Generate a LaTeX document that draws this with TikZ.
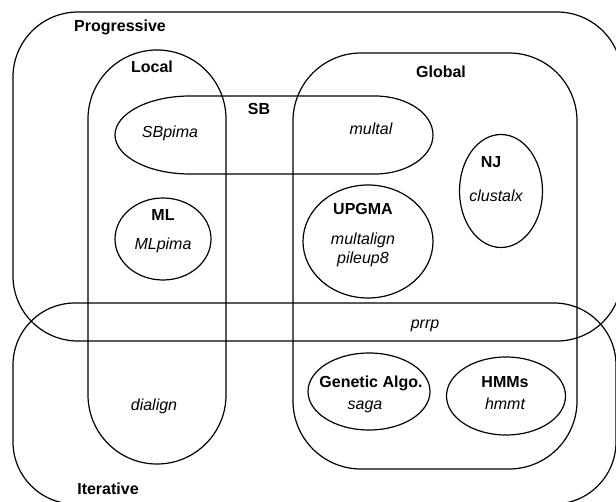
\documentclass[tikz,border=0pt]{standalone}
\usepackage{fontspec}
\setmainfont{Liberation Sans}
\usetikzlibrary{shapes.geometric,positioning}
\tikzset{
 grp/.style
  = {rectangle, draw, inner sep=0pt},
 alg/.style
  = {ellipse, draw, inner sep=0pt},
 lbl/.style
  = {font=\fontsize{8}{9.6}\selectfont\bfseries, inner sep=0pt,
     text height=6pt, text depth=1.6pt},
 prog/.style
  = {font=\fontsize{8}{9.6}\selectfont\itshape, inner sep=0pt,
     text height=6pt, text depth=1.6pt},
}

\begin{document}
\begin{tikzpicture}[x=0.5pt, y=-0.5pt, line width=0.6pt]
\useasboundingbox (0,0) rectangle (616,502);
\clip (0,0) rectangle (616,502);

% Progressive / Iterative
\node[grp, minimum width=304.5pt, minimum height=164.5pt, rounded corners=32.5pt] (progressive) at (317.5,176.5) {};
\node[grp, minimum width=301.5pt, minimum height=100.5pt, rounded corners=31pt] (iterative) at (314.5,403.5) {};
\node[lbl] (progressiveL) at (120,27) {Progressive};
\node[lbl] (iterativeL) at (108,490) {Iterative};

% Local / Global
\node[grp, minimum width=69pt, minimum height=207pt, rounded corners=34.5pt] (local) at (157,257) {};
\node[grp, minimum width=142pt, minimum height=208pt, rounded corners=34pt] (global) at (435,261) {};
\node[lbl] (localL) at (152,68) {Local};
\node[lbl] (globalL) at (441,73) {Global};

% SB
\draw (190,96) -- (375,96) .. controls (407,96) and (433,113.5) .. (433,135)
  .. controls (433,156.5) and (407,174) .. (375,174) -- (190,174)
  .. controls (148.6,174) and (115,156.5) .. (115,135)
  .. controls (115,113.5) and (148.6,96) .. (190,96) -- cycle;
\node[lbl] (sbL) at (259,110) {SB};
\node[prog] (sbpima) at (170,133) {SBpima};
\node[prog] (multal) at (371,130) {multal};

% ML, UPGMA, NJ
\node[alg, minimum width=48pt, minimum height=41pt] (ml) at (163,239) {};
\node[lbl] (mlL) at (163,216) {ML};
\node[prog] (mlpima) at (163,245) {MLpima};

\node[alg, minimum width=65pt, minimum height=56.5pt] (upgma) at (368,241.5) {};
\node[lbl] (upgmaL) at (363,210) {UPGMA};
\node[prog] (multalign) at (363,240) {multalign};
\node[prog] (pileup) at (363,259) {pileup8};

\node[alg, minimum width=41.5pt, minimum height=56.5pt] (nj) at (501,191) {};
\node[lbl] (njL) at (491,163) {NJ};
\node[prog] (clustalx) at (496,197) {clustalx};

% intersection
\node[prog] (prrp) at (425,324) {prrp};
\node[prog] (dialign) at (154,406) {dialign};

% Genetic Algo., HMMs
\node[alg, minimum width=61pt, minimum height=38.5pt] (ga) at (369,391.5) {};
\node[lbl] (gaL) at (371,383) {Genetic Algo.};
\node[prog] (saga) at (365,405) {saga};

\node[alg, minimum width=59.5pt, minimum height=39pt] (hmm) at (506,396) {};
\node[lbl] (hmmL) at (505,383) {HMMs};
\node[prog] (hmmt) at (505,405) {hmmt};

\end{tikzpicture}
\end{document}
